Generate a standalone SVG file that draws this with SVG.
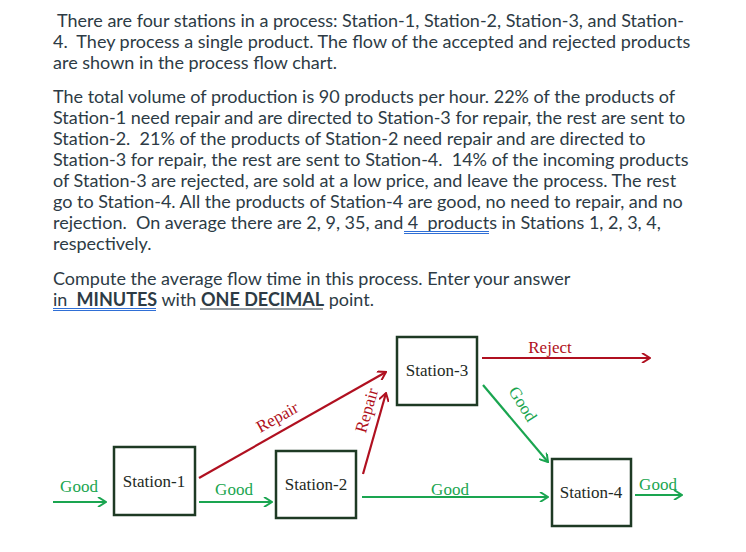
<svg xmlns="http://www.w3.org/2000/svg" width="746" height="552" viewBox="0 0 746 552">
<style>
.t{font-family:Lato,"Liberation Sans",sans-serif;font-size:18px;fill:#2d3b45}
.d{font-family:"Liberation Serif",serif;font-size:17px}
.s{font-size:17px}
.box{fill:#fff;stroke:#1e3a24;stroke-width:2.5}
.g{stroke:#1aa550;stroke-width:2.2;fill:none}
.r{stroke:#b01020;stroke-width:2.2;fill:none}
.gl{fill:#1aa550}.rl{fill:#b01020}.bl{fill:#1e2a24}
.u{stroke:#2f6fd6;stroke-width:1}
</style>
<defs>
<marker id="ag" markerWidth="10" markerHeight="10" refX="9" refY="5" orient="auto" markerUnits="userSpaceOnUse"><path d="M1,0 L9,5 L1,10" fill="none" stroke="#1aa550" stroke-width="2"/></marker>
<marker id="ar" markerWidth="10" markerHeight="10" refX="9" refY="5" orient="auto" markerUnits="userSpaceOnUse"><path d="M1,0 L9,5 L1,10" fill="none" stroke="#b01020" stroke-width="2"/></marker>
</defs>
<g id="text">
<text class="t" x="53" y="27" xml:space="preserve"> There are four stations in a process: Station-1, Station-2, Station-3, and Station-</text>
<text class="t" x="53" y="48" xml:space="preserve">4.  They process a single product. The flow of the accepted and rejected products</text>
<text class="t" x="53" y="69">are shown in the process flow chart.</text>
<text class="t" x="53" y="103">The total volume of production is 90 products per hour. 22% of the products of</text>
<text class="t" x="53" y="124">Station-1 need repair and are directed to Station-3 for repair, the rest are sent to</text>
<text class="t" x="53" y="145" xml:space="preserve">Station-2.  21% of the products of Station-2 need repair and are directed to</text>
<text class="t" x="53" y="166" xml:space="preserve">Station-3 for repair, the rest are sent to Station-4.  14% of the incoming products</text>
<text class="t" x="53" y="187">of Station-3 are rejected, are sold at a low price, and leave the process. The rest</text>
<text class="t" x="53" y="208">go to Station-4. All the products of Station-4 are good, no need to repair, and no</text>
<text class="t" x="53" y="229" xml:space="preserve">rejection.  On average there are 2, 9, 35, and 4  products in Stations 1, 2, 3, 4,</text>
<text class="t" x="53" y="250">respectively.</text>
<text class="t" x="53" y="285">Compute the average flow time in this process. Enter your answer</text>
<text class="t" x="53" y="306" xml:space="preserve">in  <tspan font-weight="bold">MINUTES</tspan> with <tspan font-weight="bold">ONE DECIMAL</tspan> point.</text>
<line class="u" x1="404" y1="231.5" x2="489" y2="231.5"/><line class="u" x1="404" y1="233.5" x2="489" y2="233.5"/>
<line class="u" x1="53" y1="308.5" x2="156" y2="308.5"/><line class="u" x1="53" y1="310.5" x2="156" y2="310.5"/>
<line stroke="#2d3b45" stroke-width="1" x1="200" y1="309" x2="323" y2="309"/>
</g>
<g id="connectors">
<line class="g" x1="53" y1="502" x2="106" y2="502" marker-end="url(#ag)"/>
<line class="g" x1="199" y1="502" x2="272" y2="502" marker-end="url(#ag)"/>
<line class="g" x1="362" y1="497" x2="548" y2="497" marker-end="url(#ag)"/>
<line class="g" x1="635" y1="495" x2="682" y2="495" marker-end="url(#ag)"/>
<line class="g" x1="483" y1="385" x2="548" y2="462" marker-end="url(#ag)"/>
<line class="r" x1="199" y1="478" x2="386" y2="372" marker-end="url(#ar)"/>
<line class="r" x1="363" y1="474" x2="386" y2="393" marker-end="url(#ar)"/>
<line class="r" x1="482" y1="358" x2="650" y2="358" marker-end="url(#ar)"/>
<text class="d gl" x="79" y="492" text-anchor="middle">Good</text>
<text class="d gl" x="234" y="495" text-anchor="middle">Good</text>
<text class="d gl" x="450" y="495" text-anchor="middle">Good</text>
<text class="d gl" x="658" y="490" text-anchor="middle">Good</text>
<text class="d gl" x="0" y="0" text-anchor="middle" transform="translate(518,407) rotate(58)">Good</text>
<text class="d rl" x="0" y="0" text-anchor="middle" transform="translate(280,422) rotate(-29)">Repair</text>
<text class="d rl" x="0" y="0" text-anchor="middle" transform="translate(372,412) rotate(-74)">Repair</text>
<text class="d rl" x="550" y="353" text-anchor="middle">Reject</text>
</g>
<g id="s1"><rect class="box" x="114" y="447" width="81" height="68"/><text class="d s bl" x="154" y="487" text-anchor="middle">Station-1</text></g>
<g id="s2"><rect class="box" x="276" y="451" width="80" height="67"/><text class="d s bl" x="316" y="490" text-anchor="middle">Station-2</text></g>
<g id="s3"><rect class="box" x="397" y="337" width="80" height="68"/><text class="d s bl" x="437" y="376" text-anchor="middle">Station-3</text></g>
<g id="s4"><rect class="box" x="552" y="459" width="79" height="67"/><text class="d s bl" x="591" y="498" text-anchor="middle">Station-4</text></g>
</svg>
